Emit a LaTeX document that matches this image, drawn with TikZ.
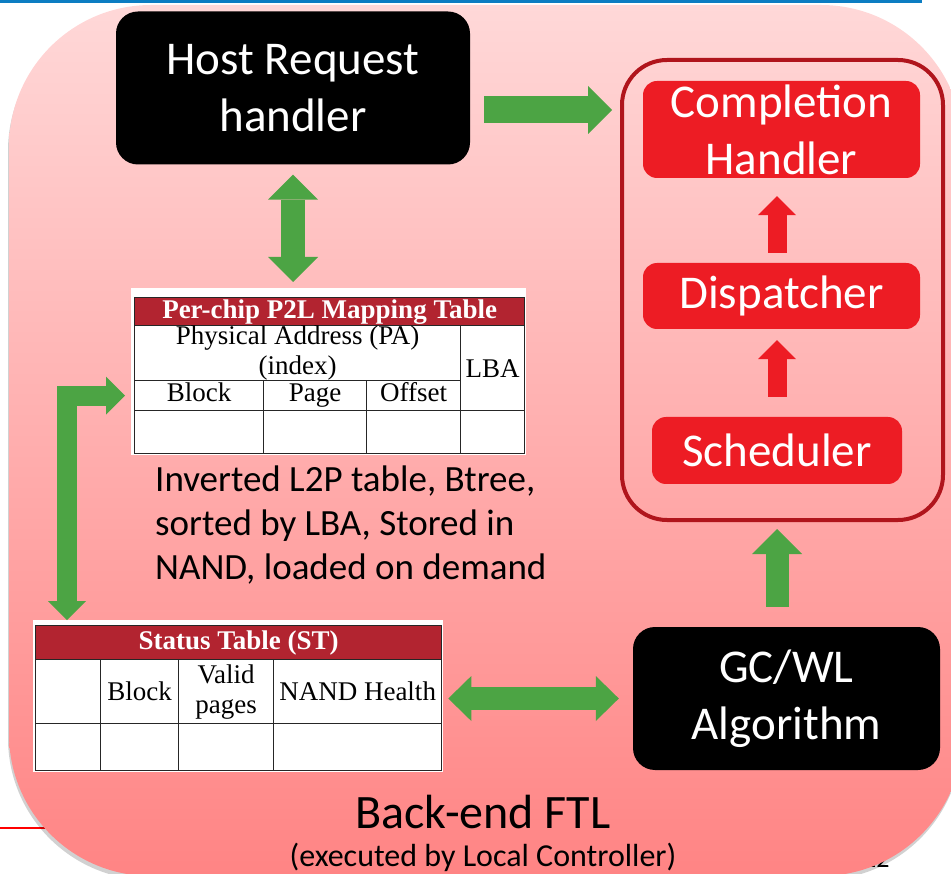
\documentclass[tikz,border=0pt]{standalone}
\usepackage{fontspec}
\setmainfont{Carlito}
\newfontfamily\tabfont{Liberation Serif}
\usetikzlibrary{arrows.meta}
\definecolor{ssdred}{RGB}{237,28,36}
\definecolor{grpred}{RGB}{176,21,28}
\definecolor{tabred}{RGB}{178,36,48}
\definecolor{ssdgreen}{RGB}{76,164,68}
\definecolor{slideblue}{RGB}{12,125,194}
\definecolor{pinktop}{RGB}{255,216,216}
\definecolor{pinkbot}{RGB}{255,132,132}

\begin{document}
\begin{tikzpicture}[x=1pt,y=-1pt]
    \tikzset{blackbox/.style = {shape=rectangle,fill=black,text=white,rounded corners=22pt,align=center,inner sep=0pt,font=\fontsize{47}{57}\selectfont}}
    \tikzset{redbox/.style = {shape=rectangle,fill=ssdred,text=white,rounded corners=14pt,align=center,inner sep=0pt,font=\fontsize{47}{57}\selectfont}}
    \tikzset{cell/.style = {shape=rectangle,draw=black!85,line width=1.3pt,fill=white,anchor=north west,inner sep=0pt,align=center,font=\tabfont\fontsize{27}{30}\selectfont}}
    \tikzset{headcell/.style = {cell,fill=tabred,text=white,font=\tabfont\bfseries\fontsize{27}{28}\selectfont}}
    \tikzset{fat/.style = {draw=ssdgreen,line join=miter}}
    \tikzset{redfat/.style = {draw=ssdred,line width=19pt,-{Triangle[width=38pt,length=19pt,line width=0pt]}}}

    \useasboundingbox (0,0) rectangle (951,874);
    \clip (0,0) rectangle (951,874);

    % slide behind
    \fill[slideblue] (0,0) rectangle (922,3.5);
    \draw[red,line width=1.3pt] (0,828) -- (60,828);
    \node[font=\fontsize{26}{28}\selectfont,anchor=east] (pgno) at (893,859) {12};

    % back-end panel
    \fill[black,opacity=0.18,rounded corners=142pt] (8,9) rectangle (962,880);
    \begin{scope}
        \clip[rounded corners=142pt] (9,5) rectangle (963,876);
        \shade[top color=pinktop,bottom color=pinkbot] (0,5) rectangle (980,876);
    \end{scope}

    % vertices
    \node[blackbox,minimum width=354pt,minimum height=153pt] (host) at (293,88) {Host Request\\handler};
    \node[shape=rectangle,draw=grpred,line width=4pt,rounded corners=45pt,minimum width=321pt,minimum height=460pt] (grp) at (782.5,290) {};
    \node[redbox,minimum width=277pt,minimum height=97pt] (comp) at (781.5,129.5) {Completion\\Handler};
    \node[redbox,minimum width=277pt,minimum height=66pt] (disp) at (781.5,296) {Dispatcher};
    \node[redbox,minimum width=250pt,minimum height=67pt] (sched) at (777,450.5) {Scheduler};
    \node[blackbox,minimum width=307pt,minimum height=143pt] (gc) at (786.5,698.5) {GC/WL\\Algorithm};

    % P2L table
    \fill[white] (131,288) rectangle (526,455);
    \node[headcell,minimum width=390pt,minimum height=28pt] (p2l-hd) at (134,297) {Per-chip P2L Mapping Table};
    \node[cell,minimum width=326pt,minimum height=55pt] (p2l-pa) at (134,325) {Physical Address (PA)\\(index)};
    \node[cell,minimum width=64pt,minimum height=85pt] (p2l-lba) at (460,325) {LBA};
    \node[cell,minimum width=129pt,minimum height=30pt] (p2l-blk) at (134,380) {Block\strut};
    \node[cell,minimum width=103pt,minimum height=30pt] (p2l-pg) at (263,380) {Page\strut};
    \node[cell,minimum width=94pt,minimum height=30pt] (p2l-off) at (366,380) {Offset\strut};
    \node[cell,minimum width=129pt,minimum height=43pt] (p2l-e1) at (134,410) {};
    \node[cell,minimum width=103pt,minimum height=43pt] (p2l-e2) at (263,410) {};
    \node[cell,minimum width=94pt,minimum height=43pt] (p2l-e3) at (366,410) {};
    \node[cell,minimum width=64pt,minimum height=43pt] (p2l-e4) at (460,410) {};

    \node[anchor=north west,align=left,inner sep=0pt,font=\fontsize{37}{44}\selectfont] (cap) at (155,466)
        {Inverted L2P table, Btree,\\sorted by LBA, Stored in\\NAND, loaded on demand};

    % status table
    \fill[white] (33,620) rectangle (443,772);
    \node[headcell,minimum width=406pt,minimum height=34pt] (st-hd) at (35,625) {Status Table (ST)};
    \node[cell,minimum width=65pt,minimum height=64pt] (st-c1) at (35,659) {};
    \node[cell,minimum width=78pt,minimum height=64pt] (st-blk) at (100,659) {Block};
    \node[cell,minimum width=95pt,minimum height=64pt,font=\tabfont\fontsize{27}{30}\selectfont] (st-vp) at (178,659) {Valid\\pages};
    \node[cell,minimum width=168pt,minimum height=64pt] (st-nh) at (273,659) {NAND Health};
    \node[cell,minimum width=65pt,minimum height=47pt] (st-e1) at (35,723) {};
    \node[cell,minimum width=78pt,minimum height=47pt] (st-e2) at (100,723) {};
    \node[cell,minimum width=95pt,minimum height=47pt] (st-e3) at (178,723) {};
    \node[cell,minimum width=168pt,minimum height=47pt] (st-e4) at (273,723) {};

    \node[font=\fontsize{48}{58}\selectfont] (ftl) at (483,812) {Back-end FTL};
    \node[font=\fontsize{32}{36}\selectfont] (exec) at (483,857) {(executed by Local Controller)};

    %edges
    \coordinate (hrout) at ([yshift=-22pt]host.east);
    \draw[fat,line width=27pt,shorten <=14pt,shorten >=8pt,-{Triangle[width=48pt,length=24pt,line width=0pt]}] (hrout) -- (hrout -| grp.west);
    \draw[fat,line width=24pt,shorten <=10pt,shorten >=15pt,{Triangle[width=50pt,length=25pt,line width=0pt]}-{Triangle[width=50pt,length=25pt,line width=0pt]}] (host.south) -- (host.south |- p2l-hd.north);
    \draw[fat,line width=20pt,{Triangle[width=38pt,length=19pt,line width=0pt]}-{Triangle[width=38pt,length=19pt,line width=0pt]}] ([xshift=-9pt]p2l-blk.west) -| ([xshift=32pt,yshift=5pt]st-hd.north west);
    \draw[fat,line width=23pt,shorten <=14pt,shorten >=6pt,{Triangle[width=45pt,length=23pt,line width=0pt]}-{Triangle[width=45pt,length=23pt,line width=0pt]}] (gc.west) -- (gc.west -| st-nh.east);
    \draw[fat,line width=23pt,shorten <=20pt,shorten >=7pt,-{Triangle[width=50pt,length=25pt,line width=0pt]}] (gc.north -| sched.south) -- (sched.south |- grp.south);
    \draw[redfat,shorten <=20pt,shorten >=11pt] (sched.north) -- (sched.north |- disp.south);
    \draw[redfat,shorten <=10pt,shorten >=18pt] (sched.north |- disp.north) -- (sched.north |- comp.south);
\end{tikzpicture}
\end{document}
